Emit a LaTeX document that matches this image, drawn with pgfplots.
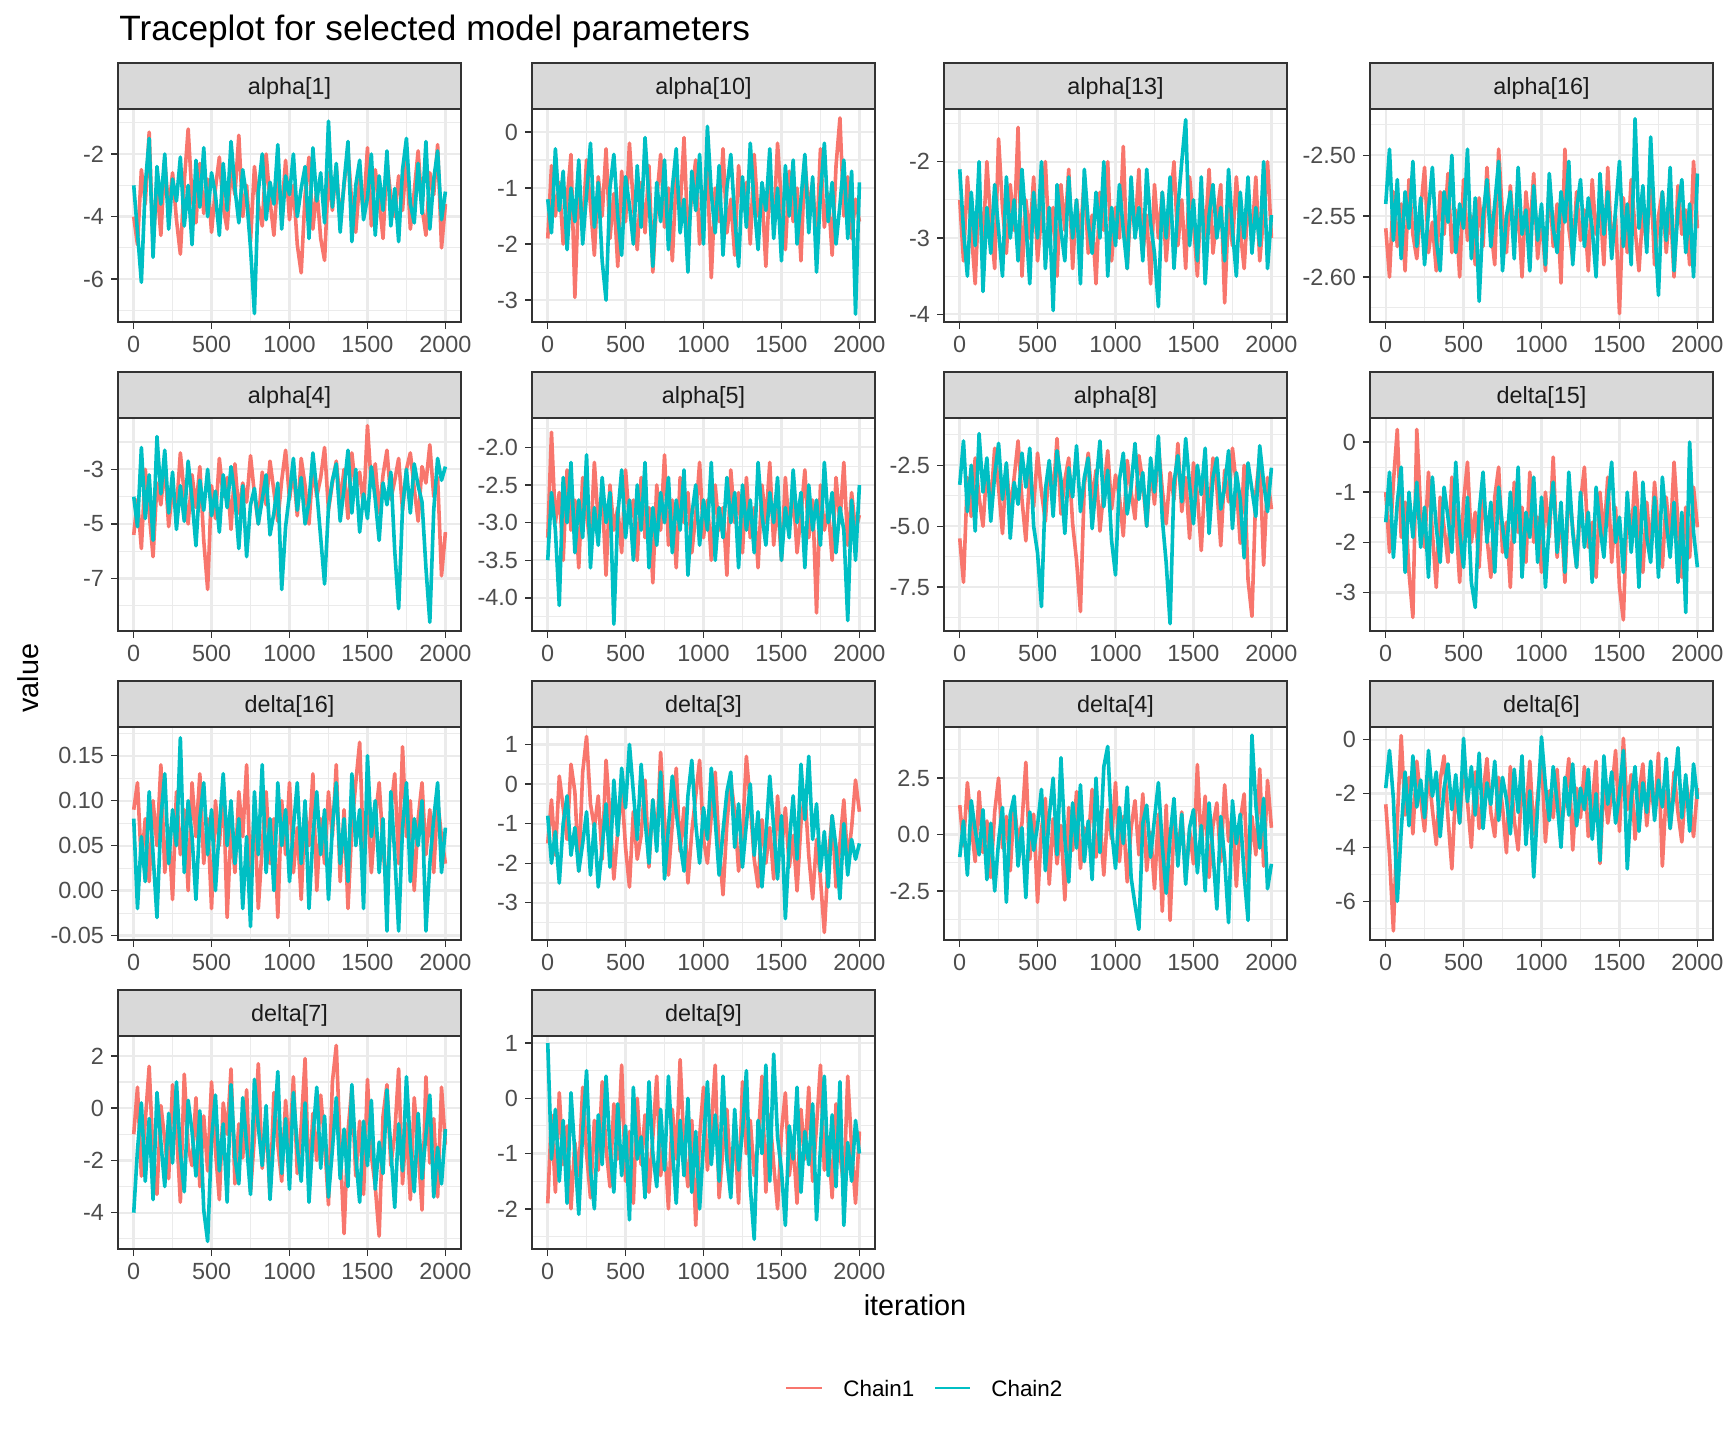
\documentclass[border=0pt]{standalone}
\usepackage{pgfplots}
\usepackage{pgfplotstable}
\pgfplotsset{compat=1.18}
\usepackage{fontspec}
\setmainfont{Liberation Sans}
\definecolor{cone}{HTML}{F8766D}
\definecolor{ctwo}{HTML}{00BFC4}
\definecolor{grey92}{HTML}{EBEBEB}
\definecolor{grey85}{HTML}{D9D9D9}
\definecolor{grey30}{HTML}{4D4D4D}
\definecolor{grey20}{HTML}{333333}
\definecolor{grey10}{HTML}{1A1A1A}

\pgfplotstableread{
it a b
1 -4.0 -3.0
25 -4.9 -4.5
50 -2.5 -6.1
75 -3.6 -3.0
100 -1.3 -1.5
125 -4.9 -5.3
150 -3.0 -2.4
175 -4.6 -3.6
200 -2.2 -2.0
225 -3.8 -4.4
250 -2.6 -2.8
275 -4.1 -3.5
300 -5.2 -2.1
325 -2.9 -4.3
350 -1.2 -3.0
375 -3.4 -4.9
400 -4.2 -2.2
425 -2.3 -3.7
450 -3.9 -1.8
475 -2.8 -4.0
500 -4.5 -2.6
525 -3.1 -3.3
550 -2.1 -4.6
575 -3.7 -2.3
600 -4.4 -3.8
625 -2.5 -1.6
650 -3.3 -3.1
675 -1.4 -4.2
700 -4.0 -2.5
725 -3.0 -3.4
750 -4.8 -5.0
775 -2.4 -7.1
800 -3.6 -3.2
825 -4.3 -2.0
850 -2.0 -4.1
875 -3.5 -2.9
900 -4.6 -3.6
925 -2.7 -1.7
950 -3.9 -4.4
975 -2.2 -2.7
1000 -4.1 -3.3
1025 -3.0 -2.0
1050 -4.9 -4.0
1075 -5.8 -3.1
1100 -3.3 -2.4
1125 -2.1 -4.7
1150 -4.4 -1.8
1175 -3.1 -3.5
1200 -4.7 -2.6
1225 -5.4 -4.2
1250 -2.6 -0.95
1275 -3.8 -3.7
1300 -2.4 -2.3
1325 -4.2 -4.5
1350 -3.0 -2.9
1375 -1.9 -1.6
1400 -3.6 -4.8
1425 -4.5 -3.0
1450 -2.8 -2.2
1475 -3.9 -4.1
1500 -1.8 -3.4
1525 -4.3 -2.0
1550 -2.5 -4.6
1575 -3.5 -2.7
1600 -4.7 -3.8
1625 -2.2 -1.9
1650 -3.4 -4.3
1675 -4.0 -3.1
1700 -2.7 -4.8
1725 -3.8 -2.5
1750 -2.1 -1.5
1775 -4.4 -3.6
1800 -3.2 -4.2
1825 -1.9 -2.3
1850 -3.7 -3.9
1875 -4.6 -1.6
1900 -2.6 -4.4
1925 -3.3 -2.8
1950 -1.7 -1.9
1975 -5.0 -4.1
2000 -3.6 -3.2
}\tA

\pgfplotstableread{
it a b
1 -1.9 -1.2
25 -0.6 -1.8
50 -1.5 -0.3
75 -0.9 -1.4
100 -2.0 -0.7
125 -1.2 -2.1
150 -0.4 -1.0
175 -2.95 -1.6
200 -1.0 -0.5
225 -1.7 -2.0
250 -0.5 -1.1
275 -1.3 -0.2
300 -2.2 -1.7
325 -0.8 -0.9
350 -1.5 -2.3
375 -0.3 -3.0
400 -1.9 -1.0
425 -1.1 -0.4
450 -2.4 -1.5
475 -0.7 -2.2
500 -1.6 -0.8
525 -0.2 -1.3
550 -1.3 -2.0
575 -2.1 -0.6
600 -0.9 -1.7
625 -1.8 -0.1
650 -0.6 -1.2
675 -2.5 -2.4
700 -1.2 -0.9
725 -0.4 -1.6
750 -1.7 -0.5
775 -1.0 -2.1
800 -2.3 -1.0
825 -0.8 -0.3
850 -1.4 -1.8
875 -0.1 -1.2
900 -1.9 -2.5
925 -1.1 -0.7
950 -0.5 -1.4
975 -2.0 -0.4
1000 -1.3 -2.0
1025 -0.7 0.1
1050 -2.6 -1.1
1075 -1.0 -1.8
1100 -1.6 -0.6
1125 -0.3 -2.2
1150 -1.8 -1.0
1175 -1.2 -0.4
1200 -2.2 -1.5
1225 -0.6 -2.4
1250 -1.4 -0.8
1275 -0.9 -1.7
1300 -2.0 -0.2
1325 -0.4 -1.3
1350 -1.5 -2.1
1375 -1.1 -0.9
1400 -2.4 -1.4
1425 -0.8 -0.3
1450 -1.7 -1.9
1475 -0.2 -1.0
1500 -1.3 -2.3
1525 -2.1 -0.6
1550 -0.7 -1.5
1575 -1.6 -0.5
1600 -1.0 -2.0
1625 -2.3 -1.2
1650 -0.5 -0.4
1675 -1.4 -1.8
1700 -0.9 -0.8
1725 -2.0 -2.5
1750 -0.3 -1.1
1775 -1.7 -0.2
1800 -1.1 -1.6
1825 -2.2 -0.9
1850 -0.6 -2.0
1875 0.25 -1.3
1900 -1.5 -0.5
1925 -0.8 -1.9
1950 -1.9 -0.7
1975 -1.2 -3.25
2000 -1.6 -0.9
}\tB

\pgfplotstableread{
it a b
1 -2.5 -2.1
25 -3.3 -2.9
50 -2.2 -3.5
75 -2.9 -2.4
100 -3.6 -3.1
125 -2.4 -2.0
150 -3.1 -3.7
175 -2.0 -2.6
200 -2.8 -3.2
225 -3.4 -2.3
250 -1.7 -2.9
275 -2.6 -3.5
300 -3.2 -2.2
325 -2.3 -3.0
350 -2.9 -2.5
375 -1.55 -3.3
400 -3.5 -2.1
425 -2.5 -2.8
450 -3.0 -3.6
475 -2.2 -2.4
500 -3.3 -3.0
525 -2.7 -2.0
550 -2.0 -3.4
575 -3.1 -2.6
600 -2.6 -3.95
625 -3.5 -2.3
650 -2.3 -2.9
675 -2.9 -3.3
700 -2.1 -2.2
725 -3.4 -3.0
750 -2.5 -2.5
775 -3.0 -3.6
800 -2.2 -2.1
825 -3.2 -2.8
850 -2.7 -3.2
875 -3.6 -2.4
900 -2.4 -3.0
925 -2.9 -2.0
950 -2.0 -3.5
975 -3.3 -2.6
1000 -2.6 -3.1
1025 -3.0 -2.3
1050 -1.8 -2.9
1075 -3.4 -3.4
1100 -2.5 -2.2
1125 -2.9 -3.0
1150 -2.1 -2.6
1175 -3.2 -3.3
1200 -2.7 -2.1
1225 -3.6 -2.8
1250 -2.3 -3.2
1275 -3.0 -3.9
1300 -2.4 -2.4
1325 -3.3 -3.0
1350 -2.6 -2.2
1375 -2.0 -3.4
1400 -3.1 -2.6
1425 -2.5 -2.0
1450 -3.4 -1.45
1475 -2.2 -3.1
1500 -2.8 -2.5
1525 -3.5 -3.3
1550 -2.4 -2.2
1575 -3.0 -3.6
1600 -2.1 -2.7
1625 -3.2 -2.3
1650 -2.7 -3.0
1675 -2.3 -2.6
1700 -3.85 -3.3
1725 -2.6 -2.1
1750 -3.1 -2.9
1775 -2.2 -3.5
1800 -2.9 -2.4
1825 -3.4 -3.0
1850 -2.5 -2.2
1875 -3.0 -3.2
1900 -2.2 -2.6
1925 -3.3 -3.1
1950 -2.7 -2.0
1975 -2.0 -3.4
2000 -3.0 -2.7
}\tC

\pgfplotstableread{
it a b
1 -2.560 -2.540
25 -2.600 -2.495
50 -2.530 -2.570
75 -2.575 -2.520
100 -2.540 -2.585
125 -2.595 -2.530
150 -2.520 -2.560
175 -2.565 -2.505
200 -2.585 -2.575
225 -2.545 -2.535
250 -2.510 -2.590
275 -2.580 -2.545
300 -2.555 -2.510
325 -2.595 -2.570
350 -2.530 -2.595
375 -2.565 -2.530
400 -2.515 -2.555
425 -2.580 -2.500
450 -2.545 -2.580
475 -2.600 -2.540
500 -2.520 -2.560
525 -2.570 -2.495
550 -2.550 -2.585
575 -2.590 -2.535
600 -2.535 -2.620
625 -2.575 -2.550
650 -2.510 -2.520
675 -2.560 -2.575
700 -2.590 -2.540
725 -2.495 -2.505
750 -2.550 -2.595
775 -2.580 -2.550
800 -2.525 -2.530
825 -2.570 -2.585
850 -2.545 -2.510
875 -2.600 -2.565
900 -2.530 -2.545
925 -2.565 -2.595
950 -2.515 -2.525
975 -2.585 -2.570
1000 -2.550 -2.540
1025 -2.595 -2.590
1050 -2.520 -2.515
1075 -2.575 -2.560
1100 -2.540 -2.580
1125 -2.605 -2.530
1150 -2.495 -2.555
1175 -2.560 -2.505
1200 -2.585 -2.590
1225 -2.530 -2.545
1250 -2.570 -2.520
1275 -2.545 -2.575
1300 -2.595 -2.535
1325 -2.520 -2.560
1350 -2.565 -2.600
1375 -2.540 -2.515
1400 -2.590 -2.565
1425 -2.510 -2.530
1450 -2.575 -2.585
1475 -2.550 -2.545
1500 -2.630 -2.505
1525 -2.535 -2.575
1550 -2.580 -2.540
1575 -2.520 -2.590
1600 -2.560 -2.470
1625 -2.595 -2.560
1650 -2.545 -2.525
1675 -2.575 -2.580
1700 -2.515 -2.485
1725 -2.590 -2.555
1750 -2.550 -2.615
1775 -2.530 -2.530
1800 -2.580 -2.570
1825 -2.540 -2.510
1850 -2.600 -2.595
1875 -2.525 -2.545
1900 -2.565 -2.520
1925 -2.545 -2.580
1950 -2.590 -2.540
1975 -2.505 -2.600
2000 -2.560 -2.515
}\tD

\pgfplotstableread{
it a b
1 -5.4 -4.0
25 -4.1 -5.1
50 -5.9 -2.2
75 -3.0 -4.8
100 -4.6 -3.2
125 -6.2 -5.6
150 -3.5 -1.8
175 -4.3 -3.9
200 -2.8 -2.3
225 -5.1 -4.6
250 -3.7 -3.1
275 -4.5 -5.2
300 -2.4 -3.6
325 -3.9 -4.9
350 -5.0 -2.7
375 -3.2 -4.1
400 -4.4 -5.8
425 -2.9 -3.4
450 -5.6 -4.5
475 -7.4 -3.0
500 -3.6 -4.7
525 -4.8 -3.8
550 -2.6 -5.3
575 -4.0 -3.2
600 -3.3 -4.4
625 -5.2 -2.9
650 -2.8 -4.0
675 -4.6 -5.9
700 -3.5 -3.6
725 -4.2 -6.2
750 -2.5 -4.3
775 -3.9 -3.7
800 -5.0 -5.0
825 -3.1 -4.1
850 -4.3 -3.2
875 -2.7 -5.4
900 -3.8 -4.6
925 -4.9 -3.5
950 -3.4 -7.4
975 -2.3 -5.1
1000 -4.1 -3.9
1025 -3.0 -2.6
1050 -4.7 -4.5
1075 -2.6 -3.3
1100 -3.6 -5.0
1125 -5.0 -4.2
1150 -2.9 -2.4
1175 -4.0 -3.8
1200 -3.3 -5.5
1225 -2.2 -7.2
1250 -4.5 -4.4
1275 -3.5 -3.4
1300 -2.7 -2.8
1325 -4.2 -4.9
1350 -3.0 -3.7
1375 -4.8 -2.3
1400 -2.4 -4.6
1425 -3.8 -3.0
1450 -3.1 -5.3
1475 -4.4 -3.9
1500 -1.4 -4.8
1525 -3.6 -2.9
1550 -2.8 -4.1
1575 -4.6 -5.6
1600 -3.2 -3.5
1625 -2.3 -4.3
1650 -4.1 -3.1
1675 -3.4 -6.0
1700 -2.6 -8.1
1725 -4.5 -4.4
1750 -3.0 -3.0
1775 -2.4 -4.6
1800 -3.7 -2.8
1825 -4.9 -3.6
1850 -2.9 -4.2
1875 -3.5 -6.6
1900 -2.1 -8.6
1925 -4.0 -4.5
1950 -3.3 -2.6
1975 -6.9 -3.4
2000 -5.3 -2.9
}\tE

\pgfplotstableread{
it a b
1 -3.2 -3.5
25 -1.8 -2.6
50 -3.0 -3.1
75 -2.6 -4.1
100 -3.5 -2.4
125 -2.3 -3.0
150 -3.1 -2.2
175 -2.7 -3.4
200 -3.6 -2.7
225 -2.4 -3.2
250 -2.9 -2.1
275 -3.3 -3.6
300 -2.2 -2.8
325 -3.0 -3.3
350 -2.6 -2.4
375 -3.7 -3.0
400 -2.5 -2.6
425 -3.1 -4.35
450 -2.8 -2.9
475 -3.4 -2.3
500 -2.3 -3.2
525 -3.0 -2.7
550 -2.7 -3.5
575 -3.5 -2.5
600 -2.4 -3.1
625 -3.2 -2.2
650 -2.8 -3.6
675 -3.8 -2.8
700 -2.5 -3.3
725 -3.1 -2.6
750 -2.1 -3.0
775 -3.3 -2.4
800 -2.7 -3.4
825 -3.6 -2.7
850 -2.4 -3.1
875 -3.0 -2.3
900 -2.6 -3.7
925 -3.4 -2.9
950 -2.9 -2.5
975 -2.2 -3.3
1000 -3.2 -2.7
1025 -2.7 -3.1
1050 -3.5 -2.2
1075 -2.5 -3.5
1100 -3.1 -2.8
1125 -2.8 -3.2
1150 -3.7 -2.4
1175 -2.3 -3.0
1200 -3.0 -2.6
1225 -2.6 -3.6
1250 -3.4 -2.5
1275 -2.4 -3.1
1300 -3.2 -2.7
1325 -2.8 -3.4
1350 -3.6 -2.2
1375 -2.5 -2.9
1400 -3.0 -3.3
1425 -2.2 -2.6
1450 -3.3 -3.0
1475 -2.7 -2.4
1500 -3.5 -3.5
1525 -2.4 -2.8
1550 -3.1 -3.2
1575 -2.6 -2.3
1600 -3.4 -3.0
1625 -2.9 -2.6
1650 -2.3 -3.6
1675 -3.2 -2.5
1700 -2.7 -3.1
1725 -4.2 -2.7
1750 -2.5 -3.3
1775 -3.1 -2.2
1800 -2.8 -3.0
1825 -3.5 -2.6
1850 -2.4 -3.4
1875 -3.0 -2.8
1900 -2.2 -3.1
1925 -3.3 -4.3
1950 -2.6 -2.7
1975 -3.1 -3.5
2000 -2.9 -2.5
}\tF

\pgfplotstableread{
it a b
1 -5.5 -3.3
25 -7.3 -1.5
50 -3.0 -4.4
75 -4.6 -2.5
100 -2.2 -5.2
125 -3.8 -1.2
150 -5.0 -3.6
175 -2.6 -2.2
200 -4.1 -4.8
225 -1.8 -2.9
250 -3.4 -1.6
275 -5.3 -3.9
300 -2.5 -2.4
325 -4.4 -5.5
350 -3.0 -3.2
375 -1.5 -4.1
400 -3.9 -2.0
425 -5.6 -3.4
450 -2.8 -1.8
475 -4.2 -5.0
500 -2.0 -6.1
525 -3.6 -8.3
550 -4.8 -3.5
575 -2.4 -2.3
600 -3.7 -4.6
625 -1.4 -1.9
650 -4.5 -3.1
675 -3.1 -5.3
700 -2.2 -2.6
725 -4.9 -3.8
750 -6.4 -1.7
775 -8.5 -4.4
800 -3.3 -3.0
825 -2.0 -2.2
850 -4.0 -5.1
875 -2.7 -3.3
900 -5.2 -1.5
925 -3.5 -4.2
950 -1.9 -2.7
975 -4.3 -5.6
1000 -2.9 -7.0
1025 -3.8 -3.1
1050 -5.4 -2.0
1075 -2.3 -4.5
1100 -3.6 -3.4
1125 -4.7 -1.6
1150 -2.1 -3.9
1175 -3.2 -2.8
1200 -5.0 -5.0
1225 -2.6 -2.2
1250 -4.1 -3.6
1275 -1.7 -1.3
1300 -3.5 -4.7
1325 -4.9 -6.5
1350 -2.8 -9.0
1375 -3.9 -3.2
1400 -1.6 -2.1
1425 -4.4 -4.0
1450 -3.0 -1.4
1475 -5.5 -3.3
1500 -2.4 -4.9
1525 -3.7 -2.5
1550 -6.0 -3.7
1575 -2.9 -1.8
1600 -4.6 -5.3
1625 -2.2 -3.0
1650 -3.4 -2.2
1675 -5.8 -4.3
1700 -2.7 -3.4
1725 -4.0 -1.9
1750 -1.8 -5.1
1775 -3.3 -2.8
1800 -5.7 -3.9
1825 -2.5 -6.3
1850 -7.2 -2.4
1875 -8.7 -3.5
1900 -3.6 -4.6
1925 -2.1 -1.7
1950 -6.6 -3.2
1975 -3.0 -4.4
2000 -4.3 -2.6
}\tG

\pgfplotstableread{
it a b
1 -1.0 -1.6
25 -2.2 -0.6
50 -0.8 -2.3
75 0.25 -1.2
100 -1.9 -0.5
125 -1.2 -2.6
150 -2.6 -1.0
175 -3.5 -1.9
200 0.25 -0.8
225 -1.4 -2.1
250 -2.1 -1.3
275 -0.6 -2.7
300 -1.8 -0.7
325 -2.9 -1.7
350 -1.1 -2.4
375 -1.7 -0.9
400 -2.4 -1.5
425 -0.7 -2.2
450 -1.5 -0.4
475 -2.8 -1.8
500 -1.2 -2.5
525 -0.4 -1.1
550 -2.0 -2.8
575 -1.4 -3.3
600 -2.5 -1.4
625 -0.9 -0.6
650 -1.9 -2.0
675 -2.7 -1.2
700 -1.1 -2.6
725 -0.5 -0.9
750 -2.2 -1.7
775 -1.6 -2.3
800 -2.9 -1.0
825 -0.8 -2.0
850 -1.8 -0.5
875 -1.3 -2.7
900 -2.4 -1.4
925 -0.6 -1.9
950 -2.0 -0.7
975 -1.5 -2.4
1000 -2.6 -1.1
1025 -1.0 -2.9
1050 -1.9 -1.6
1075 -0.3 -0.8
1100 -2.3 -2.2
1125 -1.4 -1.2
1150 -2.8 -2.6
1175 -0.9 -0.6
1200 -1.7 -1.8
1225 -2.5 -2.5
1250 -1.2 -1.0
1275 -0.5 -2.1
1300 -2.1 -1.4
1325 -1.6 -2.8
1350 -2.7 -0.9
1375 -1.0 -1.7
1400 -1.9 -2.3
1425 -0.7 -1.2
1450 -2.4 -0.4
1475 -1.3 -2.0
1500 -2.9 -1.5
1525 -3.55 -2.6
1550 -1.1 -1.0
1575 -2.0 -2.2
1600 -0.6 -1.3
1625 -1.7 -2.9
1650 -2.6 -0.8
1675 -1.2 -1.9
1700 -2.2 -2.4
1725 -0.8 -1.1
1750 -1.8 -2.7
1775 -2.5 -0.7
1800 -1.1 -1.6
1825 -2.0 -2.3
1850 -0.4 -1.2
1875 -1.6 -2.8
1900 -2.7 -1.4
1925 -1.3 -3.4
1950 -2.3 0.0
1975 -0.9 -1.8
2000 -1.7 -2.5
}\tH

\pgfplotstableread{
it a b
1 0.09 0.08
25 0.12 -0.02
50 0.03 0.06
75 0.08 0.01
100 0.01 0.11
125 0.10 0.04
150 0.05 -0.03
175 0.14 0.08
200 0.02 0.13
225 0.07 0.03
250 -0.01 0.09
275 0.11 0.05
300 0.04 0.17
325 0.09 0.02
350 0.00 0.10
375 0.12 0.06
400 0.06 -0.01
425 0.13 0.08
450 0.03 0.12
475 0.08 0.04
500 -0.02 0.09
525 0.10 0.00
550 0.05 0.07
575 0.12 0.13
600 -0.03 0.05
625 0.07 0.10
650 0.02 0.03
675 0.11 0.08
700 0.06 -0.02
725 0.14 0.06
750 0.01 -0.04
775 0.09 0.11
800 -0.02 0.04
825 0.05 0.14
850 0.11 0.02
875 0.03 0.08
900 0.08 0.00
925 -0.03 0.12
950 0.10 0.05
975 0.04 0.09
1000 0.12 0.01
1025 0.02 0.07
1050 0.07 0.12
1075 -0.01 0.03
1100 0.09 0.10
1125 0.05 -0.02
1150 0.13 0.06
1175 0.00 0.11
1200 0.08 0.04
1225 0.03 0.09
1250 0.11 -0.01
1275 0.06 0.07
1300 0.14 0.12
1325 0.01 0.03
1350 0.09 0.08
1375 -0.02 0.01
1400 0.07 0.13
1425 0.12 0.05
1450 0.165 0.09
1475 0.04 -0.02
1500 0.10 0.15
1525 0.02 0.06
1550 0.08 0.10
1575 0.12 0.02
1600 0.05 0.08
1625 -0.01 -0.045
1650 0.09 0.11
1675 0.13 0.04
1700 0.03 -0.045
1725 0.16 0.07
1750 0.06 0.12
1775 0.10 0.01
1800 0.00 0.08
1825 0.08 0.05
1850 0.12 0.10
1875 0.04 -0.045
1900 0.09 0.03
1925 0.02 0.08
1950 0.10 0.12
1975 0.06 0.02
2000 0.03 0.07
}\tI

\pgfplotstableread{
it a b
1 -1.5 -0.8
25 -0.4 -2.0
50 -1.8 -1.2
75 0.2 -2.5
100 -0.6 -1.0
125 -1.4 -0.3
150 0.5 -1.8
175 -0.2 -1.1
200 -2.2 -2.2
225 0.3 -1.5
250 1.2 -0.7
275 -0.5 -2.3
300 -1.1 -1.0
325 -0.3 -2.6
350 -1.9 -1.6
375 0.6 -0.5
400 -0.8 -2.1
425 -2.4 0.1
450 -1.2 -1.3
475 -0.1 0.4
500 -1.6 -0.6
525 -2.6 1.0
550 -0.7 -0.2
575 -1.9 -1.4
600 -1.3 0.5
625 0.1 -0.9
650 -2.1 -2.0
675 -0.4 -0.4
700 -1.5 -1.7
725 0.8 0.3
750 -0.9 -2.4
775 -2.3 -1.1
800 -1.0 0.2
825 0.4 -0.7
850 -1.7 -1.5
875 -0.6 -2.2
900 -2.5 -0.3
925 -1.2 0.6
950 -0.3 -1.0
975 0.6 -2.0
1000 -1.4 -0.6
1025 -2.0 -1.4
1050 -0.8 0.4
1075 0.3 -0.9
1100 -1.6 -2.3
1125 -2.8 -1.2
1150 -1.0 -0.2
1175 0.1 0.3
1200 -0.7 -1.6
1225 -2.2 -0.5
1250 -1.3 -2.1
1275 0.7 -1.0
1300 -0.5 0.0
1325 -1.9 -1.8
1350 -2.6 -0.7
1375 -0.9 -2.6
1400 -2.0 -1.3
1425 -1.1 0.2
1450 -2.4 -1.1
1475 -0.3 -2.4
1500 -1.7 -0.8
1525 -0.6 -3.4
1550 -2.1 -1.5
1575 -1.3 -0.3
1600 -2.7 -1.9
1625 -1.0 0.5
1650 -0.2 -0.9
1675 -1.8 0.7
1700 -2.9 -1.4
1725 -1.4 -0.5
1750 -2.4 -2.2
1775 -3.75 -1.2
1800 -1.9 -2.6
1825 -0.8 -0.8
1850 -2.6 -1.6
1875 -1.5 -2.9
1900 -0.4 -1.0
1925 -2.0 -2.3
1950 -1.1 -1.4
1975 0.1 -1.9
2000 -0.7 -1.5
}\tJ

\pgfplotstableread{
it a b
1 1.3 -1.0
25 -0.5 0.6
50 2.3 -1.8
75 0.4 1.5
100 -1.2 0.2
125 1.9 -0.9
150 -0.8 1.1
175 0.6 -2.0
200 -1.9 0.5
225 1.0 -2.5
250 2.5 -0.3
275 -0.6 1.2
300 0.8 -3.0
325 -1.6 0.9
350 1.4 1.7
375 -0.3 -1.4
400 0.5 0.3
425 3.2 -2.8
450 -1.1 1.0
475 0.9 -0.7
500 -3.0 0.4
525 0.2 2.0
550 1.6 -1.6
575 -2.2 0.8
600 0.7 2.5
625 -1.3 -0.9
650 0.4 3.4
675 -2.9 -0.2
700 1.2 -2.1
725 -0.7 1.4
750 1.9 -0.6
775 -1.5 2.2
800 0.3 -1.2
825 -0.4 0.6
850 2.0 -2.0
875 -1.0 2.5
900 0.6 -0.8
925 -1.8 3.0
950 1.1 3.9
975 -0.2 0.2
1000 2.3 -1.5
1025 -1.2 1.2
1050 0.8 -0.4
1075 -2.1 2.1
1100 0.3 -1.9
1125 1.5 -3.1
1150 -0.9 -4.2
1175 1.8 0.5
1200 -1.6 1.3
1225 0.1 -1.0
1250 -2.4 0.7
1275 0.9 2.3
1300 -3.4 -0.5
1325 1.3 -2.6
1350 -3.8 -0.1
1375 0.5 1.6
1400 -1.0 -1.4
1425 1.0 0.9
1450 -2.0 -2.2
1475 0.2 0.3
1500 -1.3 1.1
1525 3.1 -1.7
1550 -0.6 0.4
1575 1.7 -2.5
1600 -1.9 1.4
1625 0.4 -0.8
1650 1.4 -3.3
1675 -1.2 0.8
1700 2.2 -1.1
1725 -0.3 -3.9
1750 1.0 1.5
1775 -2.3 -0.4
1800 0.6 0.9
1825 1.8 -1.8
1850 -2.1 -3.8
1875 0.8 4.4
1900 -0.9 1.3
1925 2.9 -0.6
1950 -1.4 1.6
1975 2.4 -2.4
2000 0.3 -1.3
}\tK

\pgfplotstableread{
it a b
1 -2.4 -1.8
25 -4.3 -0.4
50 -7.1 -2.2
75 -3.0 -6.0
100 0.15 -3.4
125 -2.8 -1.2
150 -1.4 -3.2
175 -3.5 -0.6
200 -0.8 -2.5
225 -2.2 -1.5
250 -3.4 -2.9
275 -1.1 -0.4
300 -2.6 -2.1
325 -3.9 -1.2
350 -1.5 -3.6
375 -0.6 -1.8
400 -2.9 -0.9
425 -4.8 -2.6
450 -1.7 -1.3
475 -3.1 -3.1
500 -0.9 0.05
525 -2.3 -2.3
550 -4.0 -1.0
575 -1.2 -2.8
600 -3.3 -0.5
625 -2.0 -3.3
650 -0.7 -1.6
675 -2.7 -2.4
700 -3.6 -0.8
725 -1.4 -3.0
750 -2.5 -1.4
775 -4.2 -2.2
800 -1.0 -3.5
825 -3.0 -1.1
850 -4.1 -2.7
875 -1.6 -0.6
900 -2.8 -3.9
925 -0.8 -1.9
950 -3.5 -5.1
975 -2.1 -2.5
1000 -0.6 0.1
1025 -3.8 -1.7
1050 -1.9 -3.0
1075 -2.9 -1.0
1100 -1.1 -2.3
1125 -3.4 -4.0
1150 -2.2 -1.4
1175 -0.7 -2.8
1200 -4.1 -0.9
1225 -1.8 -3.2
1250 -2.9 -1.8
1275 -1.0 -2.6
1300 -3.6 -1.1
1325 -2.4 -3.7
1350 -0.8 -2.0
1375 -4.6 -4.5
1400 -1.5 -0.6
1425 -3.1 -2.4
1450 -2.0 -1.2
1475 -0.4 -3.1
1500 -3.4 -2.0
1525 0.05 -0.4
1550 -2.6 -4.8
1575 -1.3 -2.2
1600 -3.7 -1.0
1625 -2.0 -3.4
1650 -0.9 -1.6
1675 -3.2 -2.7
1700 -1.6 -0.8
1725 -2.8 -3.0
1750 -0.5 -1.5
1775 -4.7 -2.5
1800 -1.9 -0.7
1825 -3.3 -3.3
1850 -1.2 -1.9
1875 -2.7 -0.3
1900 -3.8 -2.9
1925 -1.5 -1.3
1950 -2.4 -3.4
1975 -3.6 -0.9
2000 -1.8 -2.2
}\tL

\pgfplotstableread{
it a b
1 -1.0 -4.0
25 0.8 -1.6
50 -2.6 0.2
75 -0.5 -2.8
100 1.6 -0.4
125 -1.8 -3.5
150 -3.3 0.6
175 0.1 -1.3
200 -1.2 -3.0
225 -2.7 -0.2
250 0.9 -2.1
275 -0.8 1.0
300 -3.6 -1.7
325 1.3 -3.2
350 -1.5 0.3
375 -2.2 -0.9
400 0.4 -2.6
425 -3.0 -0.1
450 -0.3 -3.9
475 -2.4 -5.1
500 1.0 -1.2
525 -1.6 0.5
550 -3.5 -2.4
575 0.2 -0.6
600 -1.0 -3.6
625 1.5 0.9
650 -2.9 -1.9
675 -0.6 -2.9
700 -1.9 0.4
725 0.7 -1.4
750 -3.2 -3.3
775 -1.1 1.1
800 1.7 -0.7
825 -2.3 -2.2
850 -0.4 0.1
875 -3.4 -3.5
900 0.6 -1.0
925 -1.4 1.4
950 -2.8 -2.5
975 0.3 -0.4
1000 -1.7 -3.1
1025 1.2 0.6
1050 -2.5 -1.5
1075 -0.7 -2.8
1100 1.9 0.2
1125 -3.1 -3.6
1150 -0.2 -1.1
1175 -2.0 0.8
1200 0.5 -2.3
1225 -1.3 -0.3
1250 -3.7 -3.4
1275 1.0 -1.6
1300 2.4 0.4
1325 -1.5 -2.7
1350 -4.8 -0.8
1375 -0.9 -3.0
1400 0.8 0.9
1425 -2.6 -1.8
1450 -0.5 -3.6
1475 -3.3 -0.5
1500 1.1 -2.2
1525 -1.8 0.3
1550 -3.0 -3.1
1575 -4.9 -1.3
1600 -0.3 -2.5
1625 0.9 0.7
1650 -2.2 -1.6
1675 -1.0 -3.8
1700 1.5 -0.6
1725 -2.9 -2.4
1750 -0.6 1.2
1775 -3.5 -1.4
1800 0.4 -3.2
1825 -1.6 -0.2
1850 -3.9 -2.7
1875 1.2 -1.0
1900 -2.1 0.5
1925 -0.4 -3.4
1950 -3.4 -1.5
1975 0.8 -2.9
2000 -1.4 -0.8
}\tM

\pgfplotstableread{
it a b
1 -1.9 1.0
25 -0.3 -1.1
50 -1.7 -0.2
75 0.1 -1.5
100 -1.2 -0.4
125 -0.5 -1.9
150 -2.0 0.1
175 -0.8 -1.0
200 -1.4 -2.1
225 0.2 -0.6
250 -1.0 0.5
275 -1.8 -1.3
300 -0.4 -2.0
325 -1.3 -0.3
350 0.3 -1.2
375 -0.9 0.4
400 -1.6 -0.9
425 -0.1 -1.7
450 -1.1 -0.1
475 0.6 -1.4
500 -1.5 -0.5
525 -0.6 -2.2
550 -1.9 0.2
575 0.0 -1.1
600 -1.2 -0.7
625 -0.3 -1.8
650 -1.7 0.3
675 -0.7 -1.0
700 0.4 -1.6
725 -1.4 -0.2
750 -0.8 -1.3
775 -2.0 0.4
800 -0.2 -0.9
825 -1.1 -1.9
850 0.7 -0.4
875 -0.9 -1.4
900 -1.6 0.0
925 -0.4 -1.7
950 -2.3 -0.6
975 -0.7 -2.0
1000 0.2 -0.8
1025 -1.3 0.3
1050 -0.5 -1.2
1075 0.6 -0.3
1100 -1.8 -1.5
1125 -0.9 0.4
1150 -0.2 -1.1
1175 -1.5 -1.8
1200 -0.6 -0.2
1225 -1.9 -1.3
1250 0.3 -0.6
1275 -1.0 0.5
1300 -0.4 -1.6
1325 -1.4 -2.55
1350 -0.8 -0.4
1375 0.4 -1.0
1400 -1.7 0.6
1425 -0.3 -1.5
1450 -1.2 0.8
1475 -2.0 -0.7
1500 -0.6 -1.3
1525 0.1 -2.3
1550 -1.4 -0.5
1575 -0.8 -1.1
1600 -1.9 0.2
1625 -0.2 -1.7
1650 -1.1 -0.6
1675 0.2 -1.2
1700 -1.5 -0.1
1725 -0.5 -2.2
1750 0.6 -0.9
1775 -1.3 0.4
1800 -0.7 -1.4
1825 -1.8 -0.3
1850 -0.1 -1.6
1875 -1.0 0.3
1900 -1.6 -2.3
1925 0.4 -0.8
1950 -0.9 -1.5
1975 -1.9 -0.4
2000 -0.6 -1.0
}\tN

\pgfplotsset{
  panel/.style={
    scale only axis, width=171.5pt, height=106.5pt, anchor=north west,
    xmin=-99.95, xmax=2099.95,
    xtick={0,500,1000,1500,2000},
    xticklabels={0,500,1000,1500,2000},
    minor xtick={250,750,1250,1750},
    grid=both,
    major grid style={draw=grey92, line width=1.1pt},
    minor grid style={draw=grey92, line width=0.55pt},
    axis line style={draw=grey20, line width=0.7pt},
    tick align=outside, tick pos=left,
    major tick length=3.5pt, minor tick length=0pt,
    tick style={draw=grey20, line width=0.7pt},
    ticklabel style={font=\fontsize{11.7}{13.5}\selectfont, text=grey30},
    scaled ticks=false,
    clip=true,
  },
  c1/.style={draw=cone, line width=1.8pt, line join=round, mark=none},
  c2/.style={draw=ctwo, line width=1.8pt, line join=round, mark=none},
}
\tikzset{
  strip/.style={fill=grey85, draw=grey20, line width=0.7pt},
  striptext/.style={font=\fontsize{11.7}{13.5}\selectfont, text=grey10, inner sep=0pt},
}
\newcommand{\strip}[2]{%
  \draw[strip] (#1.north west) rectangle ([yshift=23pt]#1.north east);
  \node[striptext] at ([yshift=10.2pt]#1.north) {#2};}

\begin{document}
\begin{tikzpicture}
\path[use as bounding box] (0,0) rectangle (864pt,-720pt);

% row 1
\begin{axis}[panel, name=p1, at={(59pt,-54.5pt)}, ymin=-7.37, ymax=-0.56,
  ytick={-6,-4,-2}, yticklabels={-6,-4,-2}, minor ytick={-7,-5,-3,-1}]
\addplot[c1] table[x=it,y=a] {\tA};
\addplot[c2] table[x=it,y=b] {\tA};
\end{axis}
\strip{p1}{alpha[1]}

\begin{axis}[panel, name=p2, at={(266pt,-54.5pt)}, ymin=-3.39, ymax=0.41,
  ytick={-3,-2,-1,0}, yticklabels={-3,-2,-1,0}, minor ytick={-2.5,-1.5,-0.5}]
\addplot[c1] table[x=it,y=a] {\tB};
\addplot[c2] table[x=it,y=b] {\tB};
\end{axis}
\strip{p2}{alpha[10]}

\begin{axis}[panel, name=p3, at={(472pt,-54.5pt)}, ymin=-4.1, ymax=-1.31,
  ytick={-4,-3,-2}, yticklabels={-4,-3,-2}, minor ytick={-3.5,-2.5,-1.5}]
\addplot[c1] table[x=it,y=a] {\tC};
\addplot[c2] table[x=it,y=b] {\tC};
\end{axis}
\strip{p3}{alpha[13]}

\begin{axis}[panel, name=p4, at={(685pt,-54.5pt)}, ymin=-2.637, ymax=-2.462,
  ytick={-2.6,-2.55,-2.5}, yticklabels={-2.60,-2.55,-2.50}, minor ytick={-2.625,-2.575,-2.525,-2.475}]
\addplot[c1] table[x=it,y=a] {\tD};
\addplot[c2] table[x=it,y=b] {\tD};
\end{axis}
\strip{p4}{alpha[16]}

% row 2
\begin{axis}[panel, name=p5, at={(59pt,-209pt)}, ymin=-8.92, ymax=-1.12,
  ytick={-7,-5,-3}, yticklabels={-7,-5,-3}, minor ytick={-8,-6,-4,-2}]
\addplot[c1] table[x=it,y=a] {\tE};
\addplot[c2] table[x=it,y=b] {\tE};
\end{axis}
\strip{p5}{alpha[4]}

\begin{axis}[panel, name=p6, at={(266pt,-209pt)}, ymin=-4.44, ymax=-1.61,
  ytick={-4,-3.5,-3,-2.5,-2}, yticklabels={-4.0,-3.5,-3.0,-2.5,-2.0}, minor ytick={-4.25,-3.75,-3.25,-2.75,-2.25,-1.75}]
\addplot[c1] table[x=it,y=a] {\tF};
\addplot[c2] table[x=it,y=b] {\tF};
\end{axis}
\strip{p6}{alpha[5]}

\begin{axis}[panel, name=p7, at={(472pt,-209pt)}, ymin=-9.3, ymax=-0.56,
  ytick={-7.5,-5,-2.5}, yticklabels={-7.5,-5.0,-2.5}, minor ytick={-8.75,-6.25,-3.75,-1.25}]
\addplot[c1] table[x=it,y=a] {\tG};
\addplot[c2] table[x=it,y=b] {\tG};
\end{axis}
\strip{p7}{alpha[8]}

\begin{axis}[panel, name=p8, at={(685pt,-209pt)}, ymin=-3.77, ymax=0.48,
  ytick={-3,-2,-1,0}, yticklabels={-3,-2,-1,0}, minor ytick={-3.5,-2.5,-1.5,-0.5}]
\addplot[c1] table[x=it,y=a] {\tH};
\addplot[c2] table[x=it,y=b] {\tH};
\end{axis}
\strip{p8}{delta[15]}

% row 3
\begin{axis}[panel, name=p9, at={(59pt,-363.5pt)}, ymin=-0.055, ymax=0.182,
  ytick={-0.05,0,0.05,0.1,0.15}, yticklabels={-0.05,0.00,0.05,0.10,0.15}, minor ytick={-0.025,0.025,0.075,0.125,0.175}]
\addplot[c1] table[x=it,y=a] {\tI};
\addplot[c2] table[x=it,y=b] {\tI};
\end{axis}
\strip{p9}{delta[16]}

\begin{axis}[panel, name=p10, at={(266pt,-363.5pt)}, ymin=-3.94, ymax=1.44,
  ytick={-3,-2,-1,0,1}, yticklabels={-3,-2,-1,0,1}, minor ytick={-3.5,-2.5,-1.5,-0.5,0.5}]
\addplot[c1] table[x=it,y=a] {\tJ};
\addplot[c2] table[x=it,y=b] {\tJ};
\end{axis}
\strip{p10}{delta[3]}

\begin{axis}[panel, name=p11, at={(472pt,-363.5pt)}, ymin=-4.67, ymax=4.76,
  ytick={-2.5,0,2.5}, yticklabels={-2.5,0.0,2.5}, minor ytick={-3.75,-1.25,1.25,3.75}]
\addplot[c1] table[x=it,y=a] {\tK};
\addplot[c2] table[x=it,y=b] {\tK};
\end{axis}
\strip{p11}{delta[4]}

\begin{axis}[panel, name=p12, at={(685pt,-363.5pt)}, ymin=-7.44, ymax=0.47,
  ytick={-6,-4,-2,0}, yticklabels={-6,-4,-2,0}, minor ytick={-7,-5,-3,-1}]
\addplot[c1] table[x=it,y=a] {\tL};
\addplot[c2] table[x=it,y=b] {\tL};
\end{axis}
\strip{p12}{delta[6]}

% row 4
\begin{axis}[panel, name=p13, at={(59pt,-518pt)}, ymin=-5.39, ymax=2.76,
  ytick={-4,-2,0,2}, yticklabels={-4,-2,0,2}, minor ytick={-5,-3,-1,1}]
\addplot[c1] table[x=it,y=a] {\tM};
\addplot[c2] table[x=it,y=b] {\tM};
\end{axis}
\strip{p13}{delta[7]}

\begin{axis}[panel, name=p14, at={(266pt,-518pt)}, ymin=-2.727, ymax=1.127,
  ytick={-2,-1,0,1}, yticklabels={-2,-1,0,1}, minor ytick={-2.5,-1.5,-0.5,0.5}]
\addplot[c1] table[x=it,y=a] {\tN};
\addplot[c2] table[x=it,y=b] {\tN};
\end{axis}
\strip{p14}{delta[9]}

% titles
\node[anchor=base west, inner sep=0pt, font=\fontsize{17.6}{21}\selectfont] at (59.5pt,-20pt) {Traceplot for selected model parameters};
\node[anchor=base, inner sep=0pt, font=\fontsize{14.4}{17}\selectfont] at (457.5pt,-657.5pt) {iteration};
\node[anchor=base, rotate=90, inner sep=0pt, font=\fontsize{14.4}{17}\selectfont] at (19pt,-339pt) {value};

% legend
\draw[cone, line width=1.4pt] (393pt,-694pt) -- (411pt,-694pt);
\node[anchor=base west, inner sep=0pt, font=\fontsize{11.2}{13}\selectfont] at (421.5pt,-698pt) {Chain1};
\draw[ctwo, line width=1.4pt] (467.5pt,-694pt) -- (485pt,-694pt);
\node[anchor=base west, inner sep=0pt, font=\fontsize{11.2}{13}\selectfont] at (495.5pt,-698pt) {Chain2};
\end{tikzpicture}
\end{document}
